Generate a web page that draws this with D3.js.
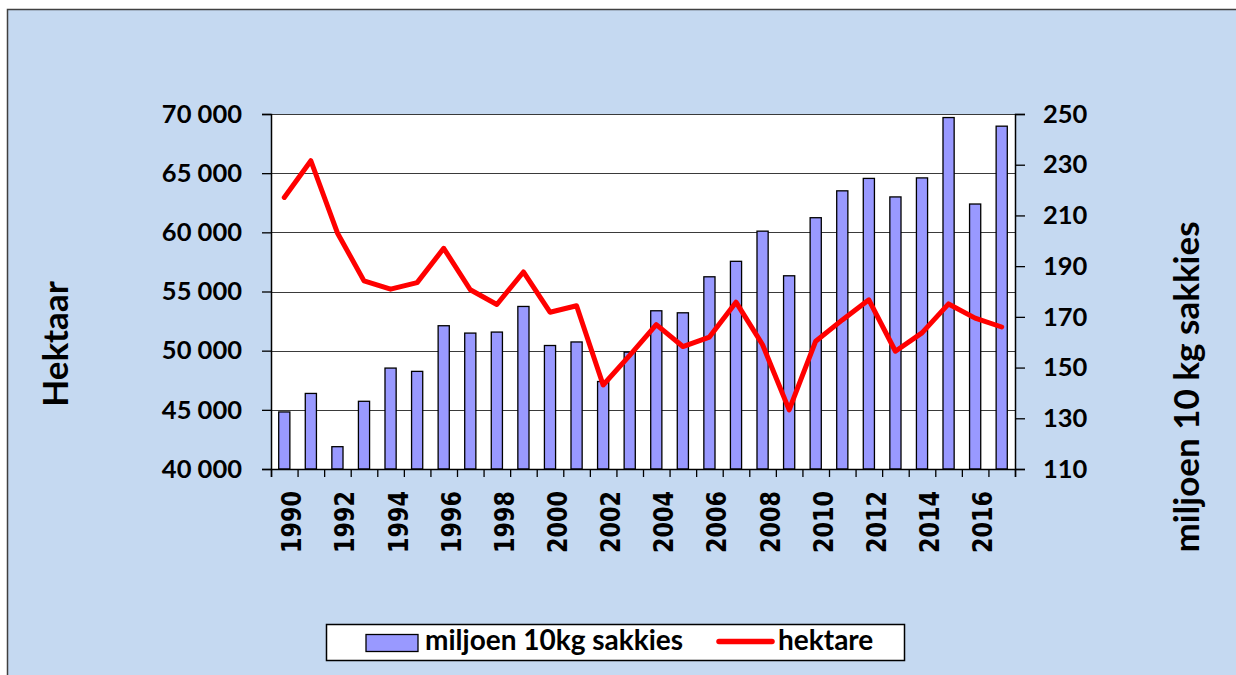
<!DOCTYPE html>
<html><head><meta charset="utf-8">
<script src="https://cdn.jsdelivr.net/npm/d3@7"></script>
<style>
html,body{margin:0;padding:0;background:#fff;}
svg{display:block;}
text{font-family:Lato,"Open Sans",sans-serif;font-weight:bold;fill:#000;}
</style></head>
<body>
<svg id="c" width="1236" height="675"></svg>
<script>
const years = [1990,1991,1992,1993,1994,1995,1996,1997,1998,1999,2000,2001,2002,2003,2004,2005,2006,2007,2008,2009,2010,2011,2012,2013,2014,2015,2016,2017];
const sakkies = [132.5,139.8,118.8,136.7,149.8,148.5,166.5,163.6,164.0,174.1,158.7,160.1,144.5,156.1,172.4,171.6,185.8,191.9,203.8,186.2,209.1,219.7,224.6,217.3,224.8,248.6,214.5,245.2];
const hektare = [62950,66050,59950,55900,55200,55750,58650,55150,53900,56650,53250,53800,47100,49600,52200,50350,51150,54100,50500,45000,50800,52600,54300,49950,51500,53950,52750,52000];
const leftTicks = [40000,45000,50000,55000,60000,65000,70000];
const rightTicks = [110,130,150,170,190,210,230,250];
const xLabelYears = [1990,1992,1994,1996,1998,2000,2002,2004,2006,2008,2010,2012,2014,2016];
const seriesNames = ["miljoen 10kg sakkies","hektare"];
const leftTitle = "Hektaar";
const rightTitle = "miljoen 10 kg sakkies";

const svg = d3.select("#c");
const L = 271, R = 1015, T = 114, B = 469;

// background frame
svg.append("rect").attr("x",7.5).attr("y",9.5).attr("width",1300).attr("height",700)
  .attr("fill","#C5D9F1").attr("stroke","#404040").attr("stroke-width",1.5);
// plot area
svg.append("rect").attr("x",L).attr("y",T).attr("width",R-L).attr("height",B-T).attr("fill","#fff");

const x = d3.scaleBand().domain(years).range([L,R]).padding(0);
const yL = d3.scaleLinear().domain([40000,70000]).range([B,T]);
const yR = d3.scaleLinear().domain([110,250]).range([B,T]);

// gridlines
svg.append("g").selectAll("line").data(leftTicks).join("line")
  .attr("x1",L).attr("x2",R).attr("y1",d=>Math.round(yL(d))+0.5).attr("y2",d=>Math.round(yL(d))+0.5)
  .attr("stroke","#3a3a3a").attr("stroke-width",1.2);

const loc = d3.formatLocale({decimal:",",thousands:" ",grouping:[3],currency:["",""]});
const fmt = loc.format(",d");

// bars
const bw = x.bandwidth()*0.42;
svg.append("g").selectAll("rect").data(years).join("rect")
  .attr("x",(d)=>x(d)+x.bandwidth()/2-bw/2)
  .attr("y",(d,i)=>yR(sakkies[i]))
  .attr("width",bw)
  .attr("height",(d,i)=>yR(110)-yR(sakkies[i]))
  .attr("fill","#9999FF").attr("stroke","#000").attr("stroke-width",1.3);

// line
const line = d3.line().x((d,i)=>x(years[i])+x.bandwidth()/2).y(d=>yL(d));
svg.append("path").datum(hektare).attr("d",line)
  .attr("fill","none").attr("stroke","#FF0000").attr("stroke-width",5).attr("stroke-linejoin","round").attr("stroke-linecap","round");

// left axis
const gl = svg.append("g").attr("transform",`translate(${L},0)`)
  .call(d3.axisLeft(yL).tickValues(leftTicks).tickFormat(fmt).tickSize(9).tickPadding(20));
gl.select(".domain").attr("stroke","#000").attr("stroke-width",1.5);
gl.selectAll(".tick line").attr("stroke","#000").attr("stroke-width",1.3);
gl.selectAll(".tick text").style("font-family","Lato").style("font-weight","bold").style("font-size","25.5px").attr("fill","#000");

// right axis
const gr = svg.append("g").attr("transform",`translate(${R},0)`)
  .call(d3.axisRight(yR).tickValues(rightTicks).tickSize(10).tickPadding(18));
gr.select(".domain").attr("stroke","#000").attr("stroke-width",1.5);
gr.selectAll(".tick line").attr("stroke","#000").attr("stroke-width",1.3);
gr.selectAll(".tick text").style("font-family","Lato").style("font-weight","bold").style("font-size","25.5px").attr("fill","#000");

// bottom axis: boundary ticks
const xb = d3.scaleLinear().domain([0,years.length]).range([L,R]);
const gb = svg.append("g").attr("transform",`translate(0,${B})`)
  .call(d3.axisBottom(xb).tickValues(d3.range(0,years.length+1)).tickFormat("").tickSize(8));
gb.select(".domain").attr("stroke","#000").attr("stroke-width",1.5);
gb.selectAll(".tick line").attr("stroke","#000").attr("stroke-width",1.3);

// x labels
svg.append("g").selectAll("text").data(xLabelYears).join("text")
  .attr("transform",d=>`translate(${x(d)+x.bandwidth()/2+17},491) rotate(-90)`)
  .attr("text-anchor","end")
  .style("font-family","'DejaVu Sans'").style("font-weight","bold").style("font-size","27px")
  .attr("textLength",62).attr("lengthAdjust","spacingAndGlyphs")
  .text(d=>d);

// axis titles
svg.append("text").attr("transform","translate(68,344) rotate(-90)").attr("text-anchor","middle")
  .style("font-size","35px").text(leftTitle);
svg.append("text").attr("transform","translate(1199,387) rotate(-90)").attr("text-anchor","middle")
  .style("font-size","35px").text(rightTitle);

// legend
const lg = svg.append("g");
lg.append("rect").attr("x",326.5).attr("y",624.5).attr("width",578).attr("height",36)
  .attr("fill","#fff").attr("stroke","#000").attr("stroke-width",1.5);
lg.append("rect").attr("x",366).attr("y",634.5).attr("width",52).attr("height",17)
  .attr("fill","#9999FF").attr("stroke","#000").attr("stroke-width",1.3);
lg.append("text").attr("x",425).attr("y",649.5).style("font-size","28px").text(seriesNames[0]);
lg.append("line").attr("x1",719).attr("x2",772).attr("y1",641.5).attr("y2",641.5)
  .attr("stroke","#FF0000").attr("stroke-width",5.5).attr("stroke-linecap","round");
lg.append("text").attr("x",778).attr("y",649.5).style("font-size","28px").text(seriesNames[1]);
</script>
</body></html>
